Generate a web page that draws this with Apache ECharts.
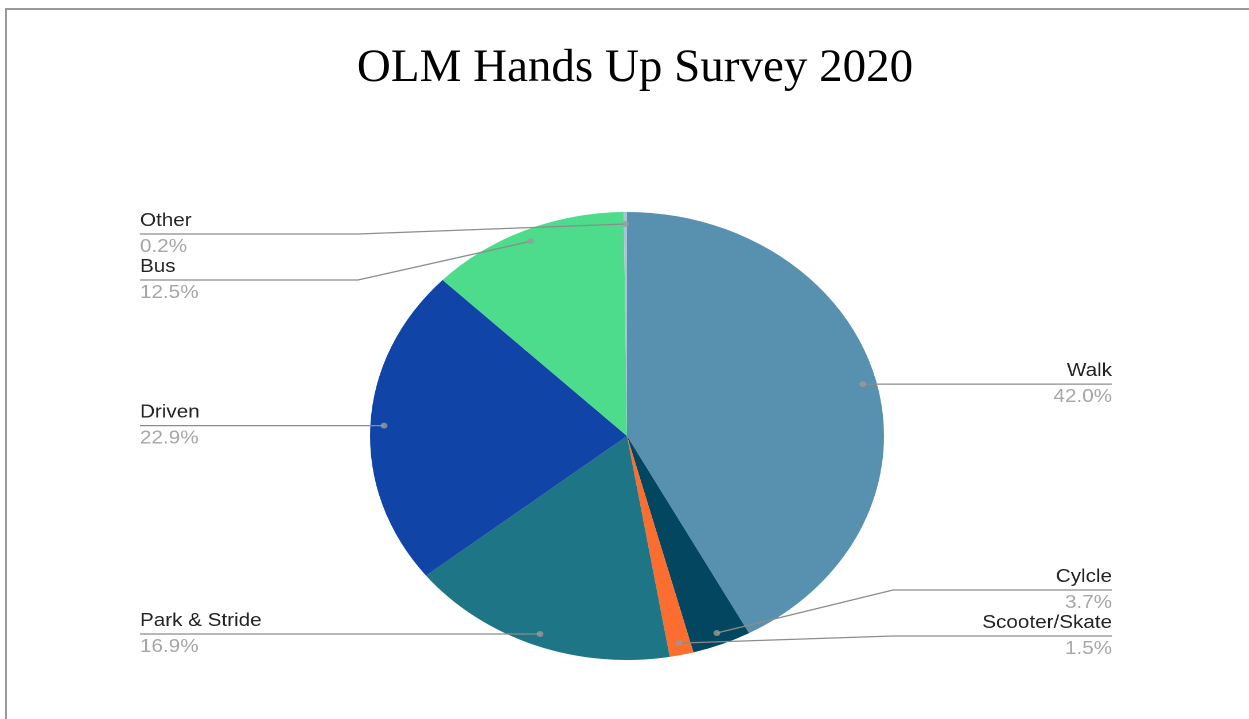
<!DOCTYPE html>
<html>
<head>
<meta charset="utf-8">
<script src="https://cdn.jsdelivr.net/npm/echarts@6/dist/echarts.min.js"></script>
<style>
  html, body { margin: 0; padding: 0; background: #fff; width: 1249px; height: 719px; overflow: hidden; }
  #frame { position: absolute; left: 5px; top: 8px; width: 1300px; height: 800px; border-top: 2px solid #999; border-left: 2px solid #999; }
  #pie { position: absolute; left: 0; top: 0; width: 1249px; height: 719px; transform-origin: 627px 436px; }
  #title { position: absolute; left: 0; top: 0; width: 1249px; height: 719px; pointer-events: none; }
</style>
</head>
<body>
<div id="frame"></div>
<div id="pie"></div>
<div id="title"></div>
<script>
// ---- data ----
const categories = ['Walk', 'Cylcle', 'Scooter/Skate', 'Park & Stride', 'Driven', 'Bus', 'Other'];
const shares = [42.0, 3.7, 1.5, 16.9, 22.9, 12.5, 0.2];
const sliceColors = ['#5891b0', '#02465f', '#fc6e2f', '#1e7585', '#1045a7', '#4cdc8b', '#a6c3d8'];
const chartTitle = 'OLM Hands Up Survey 2020';

// ---- geometry / style constants ----
const SX = 257 / 224;           // horizontal stretch of the pie (ellipse)
const CX = 627, CY = 436, R = 224;
const DOT_R = 212;
const LEFT_X = CX - (CX - 140) / SX;
const RIGHT_X = CX + (1112 - CX) / SX;
const ELBOW_L = CX - (CX - 358) / SX;
const ELBOW_R = CX + (893 - CX) / SX;
const GAP = 46, TOP_Y = CY - R + 22, BOT_Y = CY + R - 24;

document.getElementById('pie').style.transform = 'scaleX(' + SX + ')';

const total = shares.reduce((a, b) => a + b, 0);
let cum = 0;
const mids = shares.map(v => { const m = cum + v / 2; cum += v; return m; });
const dots = mids.map(m => {
  const t = m / total * Math.PI * 2;
  return [CX + DOT_R * Math.sin(t), CY - DOT_R * Math.cos(t)];
});
// resolve label rows per side
const labelY = dots.map(d => d[1]);
['L', 'R'].forEach(side => {
  const idx = dots.map((d, i) => i).filter(i => (side === 'L') === (dots[i][0] < CX));
  idx.sort((a, b) => dots[a][1] - dots[b][1]);
  for (let k = 0; k < idx.length; k++) {
    let y = Math.max(labelY[idx[k]], TOP_Y);
    if (k > 0) y = Math.max(y, labelY[idx[k - 1]] + GAP);
    labelY[idx[k]] = y;
  }
  for (let k = idx.length - 1; k >= 0; k--) {
    let y = Math.min(labelY[idx[k]], BOT_Y);
    if (k < idx.length - 1) y = Math.min(y, labelY[idx[k + 1]] - GAP);
    labelY[idx[k]] = y;
  }
});

const pieBase = {
  type: 'pie',
  center: [CX, CY],
  radius: R,
  startAngle: 90,
  clockwise: true,
  avoidLabelOverlap: false,
  emphasis: { disabled: true },
  silent: true
};

const pieChart = echarts.init(document.getElementById('pie'), null, { devicePixelRatio: 2 });
pieChart.setOption({
  animation: false,
  polar: { center: [CX, CY], radius: R },
  angleAxis: { type: 'value', min: 0, max: total, startAngle: 90, clockwise: true, show: false,
    axisLine: { show: false }, splitLine: { show: false }, axisLabel: { show: false }, axisTick: { show: false } },
  radiusAxis: { type: 'value', min: 0, max: R, show: false,
    axisLine: { show: false }, splitLine: { show: false }, axisLabel: { show: false }, axisTick: { show: false } },
  series: [
    Object.assign({}, pieBase, {
      z: 1,
      itemStyle: { borderWidth: 0 },
      label: { show: false },
      labelLine: { show: false },
      data: categories.map((n, i) => ({ name: n, value: shares[i], itemStyle: { color: sliceColors[i] } }))
    }),
    Object.assign({}, pieBase, {
      z: 3,
      itemStyle: { borderWidth: 0, color: 'rgba(0,0,0,0)' },
      data: categories.map((n, i) => ({ name: n, value: shares[i] })),
      label: {
        show: true,
        position: 'outside',
        formatter: p => '{n|' + p.name + '}\n{v|' + p.value.toFixed(1) + '%}',
        rich: {
          n: { fontSize: 18, lineHeight: 26, color: '#222222', fontFamily: 'Liberation Sans, Arial, sans-serif' },
          v: { fontSize: 18, lineHeight: 26, color: '#a6a6a6', fontFamily: 'Liberation Sans, Arial, sans-serif' }
        }
      },
      labelLine: { show: true, length: 10, length2: 10, smooth: false, lineStyle: { color: '#8c8c8c', width: 1.3 } },
      labelLayout: function (params) {
        const i = params.dataIndex;
        const d = dots[i];
        const left = d[0] < CX;
        const y = labelY[i];
        const endX = left ? LEFT_X : RIGHT_X;
        const pts = Math.abs(y - d[1]) < 1
          ? [[d[0], d[1]], [(d[0] + endX) / 2, y], [endX, y]]
          : [[d[0], d[1]], [left ? ELBOW_L : ELBOW_R, y], [endX, y]];
        return { x: endX, y: y, align: left ? 'left' : 'right', verticalAlign: 'middle', labelLinePoints: pts };
      }
    }),
    {
      type: 'scatter',
      coordinateSystem: 'polar',
      z: 5,
      symbol: 'circle',
      symbolSize: 6,
      silent: true,
      itemStyle: { color: '#9a9a9a' },
      data: mids.map(m => [DOT_R, m])
    }
  ]
});

const titleChart = echarts.init(document.getElementById('title'), null, { devicePixelRatio: 2 });
titleChart.setOption({
  animation: false,
  title: {
    text: chartTitle,
    left: 630,
    textAlign: 'center',
    top: 40,
    textStyle: { fontFamily: 'Liberation Serif, serif', fontSize: 47, fontWeight: 'normal', color: '#000' }
  }
});
</script>
</body>
</html>
